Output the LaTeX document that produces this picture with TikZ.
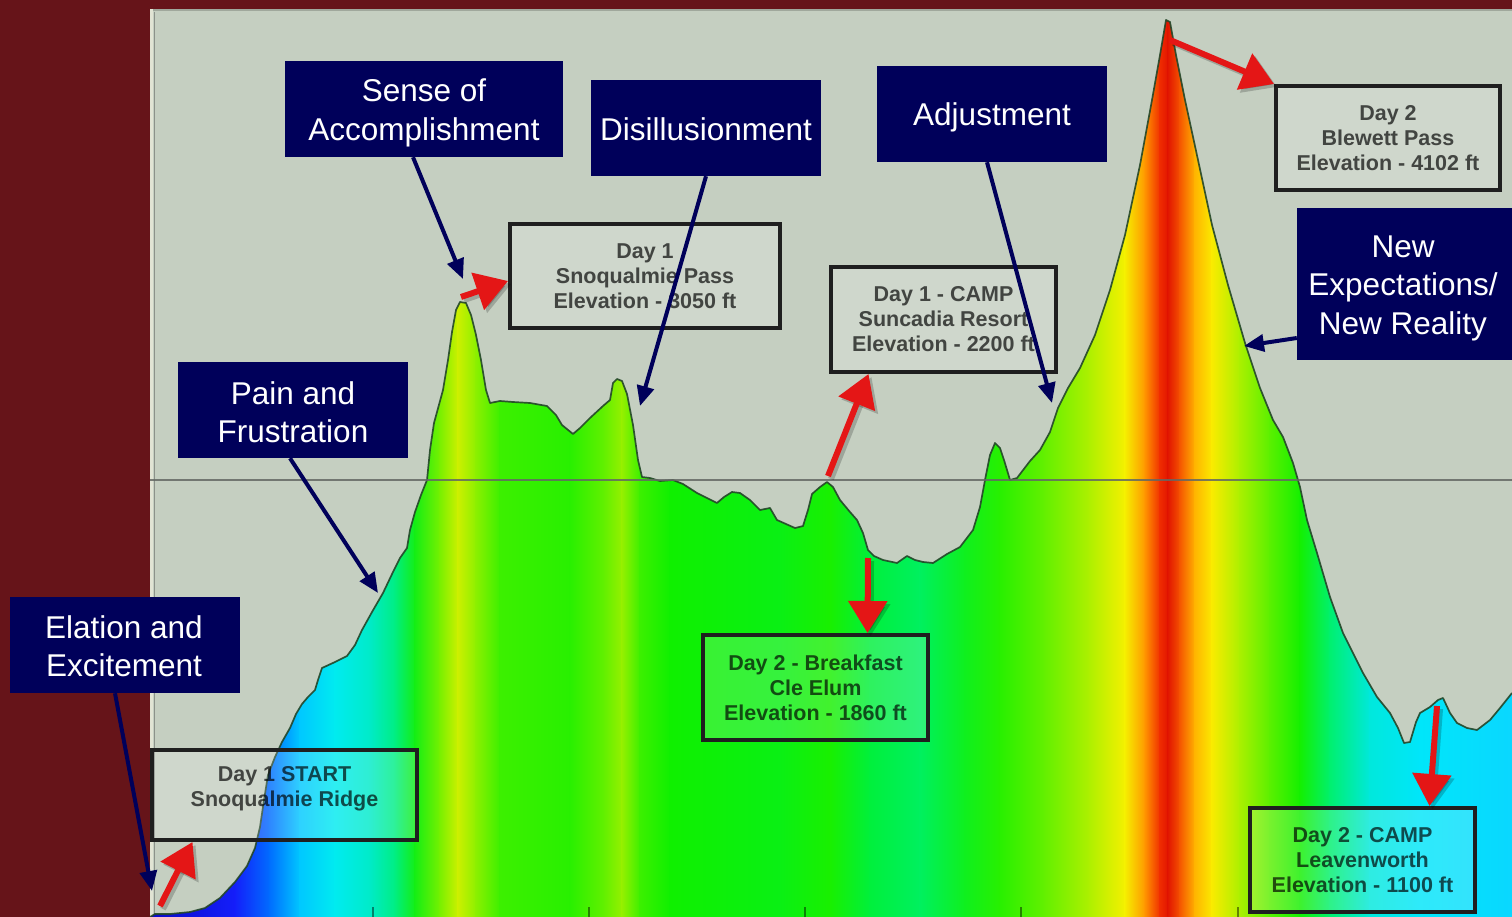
\documentclass[tikz,border=0pt]{standalone}
\usepackage{fontspec}
\setmainfont{Liberation Sans}
\usetikzlibrary{arrows.meta,calc}
\definecolor{bgred}{RGB}{102,20,25}
\definecolor{chartbg}{RGB}{197,207,193}
\definecolor{navybox}{RGB}{0,0,90}
\definecolor{redarrow}{RGB}{228,22,22}
\definecolor{outline}{RGB}{35,70,40}
\definecolor{p0}{RGB}{10,10,200}
\definecolor{p1}{RGB}{20,30,250}
\definecolor{p2}{RGB}{0,110,255}
\definecolor{p3}{RGB}{0,200,255}
\definecolor{p4}{RGB}{0,235,240}
\definecolor{p5}{RGB}{0,235,200}
\definecolor{p6}{RGB}{0,238,130}
\definecolor{p7}{RGB}{20,238,20}
\definecolor{p8}{RGB}{120,240,0}
\definecolor{p9}{RGB}{205,240,0}
\definecolor{p10}{RGB}{140,240,0}
\definecolor{p11}{RGB}{60,240,0}
\definecolor{p12}{RGB}{40,240,0}
\definecolor{p13}{RGB}{100,240,0}
\definecolor{p14}{RGB}{150,240,0}
\definecolor{p15}{RGB}{60,240,0}
\definecolor{p16}{RGB}{15,240,0}
\definecolor{p17}{RGB}{10,240,20}
\definecolor{p18}{RGB}{25,240,0}
\definecolor{p19}{RGB}{0,240,60}
\definecolor{p20}{RGB}{0,240,95}
\definecolor{p21}{RGB}{15,240,30}
\definecolor{p22}{RGB}{40,240,0}
\definecolor{p23}{RGB}{100,240,0}
\definecolor{p24}{RGB}{175,240,0}
\definecolor{p25}{RGB}{245,240,0}
\definecolor{p26}{RGB}{255,150,0}
\definecolor{p27}{RGB}{240,45,0}
\definecolor{p28}{RGB}{225,20,0}
\definecolor{p29}{RGB}{245,85,0}
\definecolor{p30}{RGB}{255,180,0}
\definecolor{p31}{RGB}{250,235,0}
\definecolor{p32}{RGB}{170,240,0}
\definecolor{p33}{RGB}{90,240,0}
\definecolor{p34}{RGB}{20,240,0}
\definecolor{p35}{RGB}{0,240,110}
\definecolor{p36}{RGB}{0,232,220}
\definecolor{p37}{RGB}{0,230,250}
\definecolor{p38}{RGB}{10,215,255}
\tikzset{
  navy/.style={fill=navybox, inner sep=0pt},
  navytext/.style={text=white, inner sep=0pt, align=center,
    font=\fontsize{31.5}{38.5}\selectfont},
  infobox/.style={draw=black!88, line width=4pt, fill=white, fill opacity=0.18,
    text opacity=0.68, text=black, inner sep=0pt, align=center,
    font=\bfseries\fontsize{21.5}{25}\selectfont},
  infotext/.style={text opacity=0.68, text=black, inner sep=0pt, align=center,
    font=\bfseries\fontsize{21.5}{25}\selectfont},
  navyarrow/.style={draw=navybox, line width=4pt, -{Triangle[length=20pt,width=17pt]}},
  redarr/.style={draw=redarrow, line width=6pt, -{Triangle[length=32pt,width=38pt]}},
  redshadow/.style={draw=black, opacity=0.2, line width=6pt,
    -{Triangle[length=32pt,width=38pt]}, transform canvas={xshift=3pt,yshift=-3pt}},
}
\def\profpts{(150,917) -- (155,914) -- (170,914) -- (190,912) -- (205,908) -- (220,898) -- (235,882) -- (247,866) -- (255,848) -- (260,827) -- (264,800) -- (268,775) -- (275,757) -- (282,742) -- (290,728) -- (296,714) -- (302,704) -- (308,697) -- (315,690) -- (318,680) -- (322,668) -- (335,662) -- (347,656) -- (355,645) -- (362,630) -- (372,612) -- (383,593) -- (393,572) -- (400,558) -- (407,548) -- (410,530) -- (415,512) -- (421,495) -- (427,480) -- (430,450) -- (434,423) -- (443,390) -- (448,360) -- (452,332) -- (456,310) -- (460,302) -- (466,303) -- (471,315) -- (476,335) -- (481,360) -- (486,390) -- (490,403) -- (500,401) -- (513,402) -- (530,403) -- (547,406) -- (556,415) -- (562,425) -- (573,434) -- (580,428) -- (590,418) -- (603,406) -- (610,400) -- (613,383) -- (617,379) -- (622,381) -- (627,394) -- (633,425) -- (638,460) -- (642,477) -- (650,478) -- (660,481) -- (673,480) -- (683,484) -- (697,493) -- (707,498) -- (717,503) -- (724,497) -- (732,492) -- (740,493) -- (750,500) -- (760,510) -- (770,508) -- (777,520) -- (786,524) -- (795,528) -- (803,526) -- (808,510) -- (812,494) -- (820,487) -- (827,482) -- (833,487) -- (840,500) -- (850,512) -- (857,520) -- (863,533) -- (868,550) -- (874,556) -- (883,560) -- (897,563) -- (907,556) -- (915,560) -- (923,562) -- (933,563) -- (947,554) -- (960,547) -- (973,530) -- (980,507) -- (985,480) -- (990,455) -- (995,443) -- (1000,448) -- (1004,460) -- (1010,480) -- (1017,478) -- (1030,461) -- (1040,450) -- (1050,432) -- (1058,408) -- (1068,388) -- (1080,368) -- (1095,335) -- (1110,290) -- (1125,235) -- (1140,165) -- (1152,100) -- (1160,55) -- (1166,20) -- (1170,22) -- (1176,55) -- (1185,100) -- (1198,160) -- (1212,225) -- (1228,285) -- (1245,343) -- (1260,388) -- (1273,420) -- (1283,437) -- (1293,463) -- (1300,487) -- (1307,520) -- (1317,553) -- (1330,597) -- (1343,633) -- (1363,673) -- (1377,697) -- (1390,713) -- (1398,728) -- (1404,743) -- (1410,742) -- (1416,722) -- (1420,713) -- (1430,707) -- (1438,700) -- (1443,698) -- (1450,713) -- (1457,723) -- (1467,728) -- (1477,730) -- (1490,720) -- (1500,708) -- (1512,693)}
\begin{document}
\begin{tikzpicture}[x=1pt,y=-1pt]
\useasboundingbox (0,0) rectangle (1512,917);
% backgrounds
\fill[bgred] (0,0) rectangle (1512,917);
\fill[chartbg] (150,9) rectangle (1512,917);
\draw[color={rgb,255:red,160;green,168;blue,156}, line width=2pt] (150,10) -- (1512,10);
\draw[color={rgb,255:red,225;green,228;blue,212}, line width=3pt] (151.5,9) -- (151.5,917);
\draw[color={rgb,255:red,140;green,146;blue,138}, line width=1.5pt] (154.5,12) -- (154.5,917);
% profile fill
\begin{scope}
  \clip \profpts -- (1512,917) -- cycle;
  \foreach \xa/\ca/\xb/\cb in {150/p0/235/p1, 235/p1/270/p2, 270/p2/300/p3, 300/p3/335/p4,
    335/p4/370/p5, 370/p5/395/p6, 395/p6/415/p7, 415/p7/440/p8, 440/p8/458/p9,
    458/p9/476/p10, 476/p10/500/p11, 500/p11/570/p12, 570/p12/605/p13, 605/p13/622/p14,
    622/p14/640/p15, 640/p15/670/p16, 670/p16/780/p17, 780/p17/830/p18, 830/p18/870/p19,
    870/p19/920/p20, 920/p20/965/p21, 965/p21/1000/p22, 1000/p22/1045/p23,
    1045/p23/1090/p24, 1090/p24/1125/p25, 1125/p25/1145/p26, 1145/p26/1160/p27,
    1160/p27/1168/p28, 1168/p28/1180/p29, 1180/p29/1195/p30, 1195/p30/1212/p31,
    1212/p31/1240/p32, 1240/p32/1270/p33, 1270/p33/1300/p34, 1300/p34/1330/p35,
    1330/p35/1370/p36, 1370/p36/1420/p37, 1420/p37/1512/p38}
  {\shade[left color=\ca, right color=\cb] (\xa-0.6,0) rectangle (\xb+0.6,917);}
\end{scope}
\draw[outline, opacity=0.9, line width=1.7pt, line join=round] \profpts;
% horizontal reference line and ticks
\draw[color={rgb,255:red,100;green,104;blue,100}, opacity=0.85, line width=2pt] (150,480) -- (1512,480);
\foreach \x in {373,589,805,1021,1238}
  \draw[black, opacity=0.45, line width=1.5pt] (\x,907) -- (\x,917);
% info boxes
\node[infobox, minimum width=270pt, minimum height=104pt] (d1pass) at (645,276)
  {Day 1\\Snoqualmie Pass\\Elevation - 3050 ft};
\node[infobox, minimum width=225pt, minimum height=105pt] (camp) at (943.5,319.5)
  {Day 1 - CAMP\\Suncadia Resort\\Elevation - 2200 ft};
\node[infobox, minimum width=224pt, minimum height=104pt] (blewett) at (1388,138)
  {Day 2\\Blewett Pass\\Elevation - 4102 ft};
\node[infobox, minimum width=225pt, minimum height=105pt] (breakfast) at (815.5,687.5)
  {Day 2 - Breakfast\\Cle Elum\\Elevation - 1860 ft};
\node[infobox, minimum width=225pt, minimum height=104pt] (leav) at (1362.5,860)
  {Day 2 - CAMP\\Leavenworth\\Elevation - 1100 ft};
\node[infobox, minimum width=265pt, minimum height=90pt] (start) at (284.5,795) {};
\node[infotext] (startT) at (284.5,789) {Day 1 START\\Snoqualmie Ridge};
% red arrows
\coordinate (r1) at (461,297);
\coordinate (r2) at (1170,40);
\coordinate (r3) at (828,476);
\coordinate (r4) at (868,558);
\coordinate (r5) at (1437,706);
\coordinate (r6) at (160,906);
\draw[redshadow] (r1) -- ([yshift=-5pt]d1pass.west);
\draw[redshadow] (r2) -- (blewett.north west);
\draw[redshadow] (r3) -- ([xshift=-75pt]camp.south);
\draw[redshadow] (r4) -- ([xshift=52pt]breakfast.north);
\draw[redshadow] (r5) -- ([xshift=67pt]leav.north);
\draw[redshadow] (r6) -- ([xshift=-92pt]start.south);
\draw[redarr] (r1) -- ([yshift=-5pt]d1pass.west);
\draw[redarr] (r2) -- (blewett.north west);
\draw[redarr] (r3) -- ([xshift=-75pt]camp.south);
\draw[redarr] (r4) -- ([xshift=52pt]breakfast.north);
\draw[redarr] (r5) -- ([xshift=67pt]leav.north);
\draw[redarr] (r6) -- ([xshift=-92pt]start.south);
% navy label boxes
\node[navy, minimum width=278pt, minimum height=96pt] (sense) at (424,109) {};
\node[navytext] (senseT) at (424,113) {Sense of\\Accomplishment};
\node[navy, minimum width=230pt, minimum height=96pt] (disill) at (706,128) {};
\node[navytext] (disillT) at (706,129) {Disillusionment};
\node[navy, minimum width=230pt, minimum height=96pt] (adjust) at (992,114) {};
\node[navytext] (adjustT) at (992,117) {Adjustment};
\node[navy, minimum width=216pt, minimum height=152pt] (newexp) at (1405,284) {};
\node[navytext] (newexpT) at (1403,288) {New\\Expectations/\\New Reality};
\node[navy, minimum width=230pt, minimum height=96pt] (pain) at (293,410) {};
\node[navytext] (painT) at (293,412) {Pain and\\Frustration};
\node[navy, minimum width=230pt, minimum height=96pt] (elation) at (125,645) {};
\node[navytext] (elationT) at (124,646) {Elation and\\Excitement};
% navy arrows
\coordinate (tSense) at (463,279);
\coordinate (tDis) at (640,406);
\coordinate (tAdj) at (1052,403);
\coordinate (tNew) at (1244,346);
\coordinate (tPain) at (378,593);
\coordinate (tEl) at (152,891);
\draw[navyarrow] ([xshift=-11pt]sense.south) -- (tSense);
\draw[navyarrow] (disill.south) -- (tDis);
\draw[navyarrow] ([xshift=-5pt]adjust.south) -- (tAdj);
\draw[navyarrow] ([yshift=-54pt]newexp.west) -- (tNew);
\draw[navyarrow] ([xshift=-3pt]pain.south) -- (tPain);
\draw[navyarrow] ([xshift=-10pt]elation.south) -- (tEl);
\end{tikzpicture}
\end{document}
